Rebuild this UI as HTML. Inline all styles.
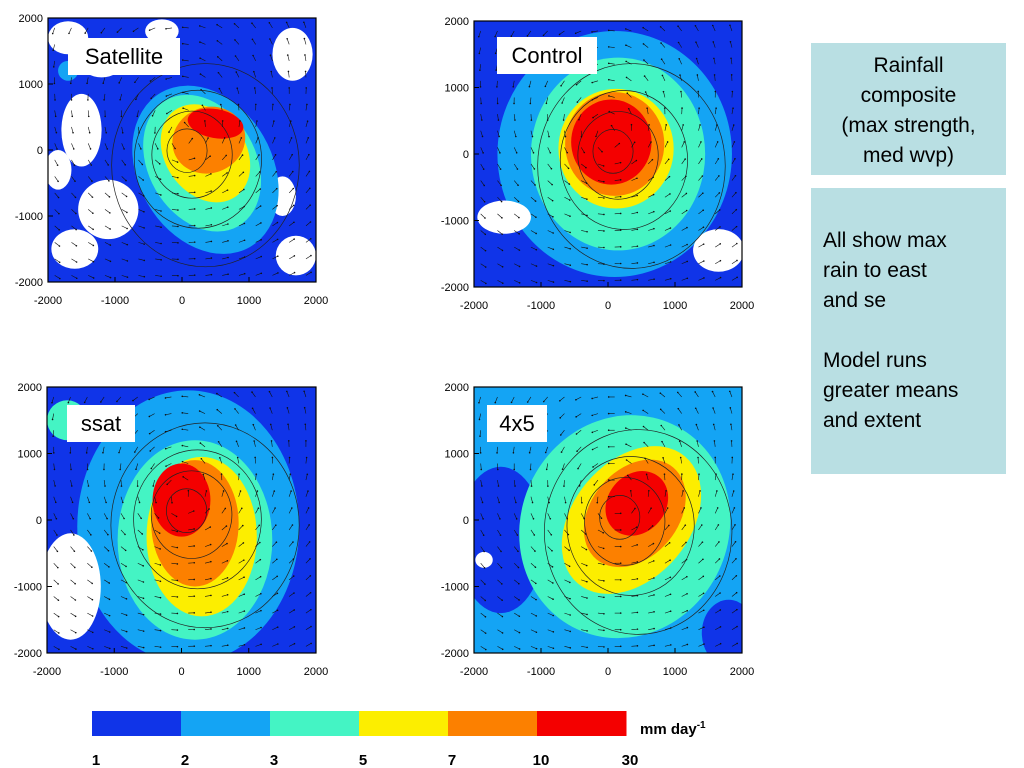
<!DOCTYPE html>
<html><head><meta charset="utf-8">
<style>
body{margin:0;width:1024px;height:768px;background:#fff;font-family:"Liberation Sans",sans-serif;overflow:hidden;position:relative}
.box{position:absolute;background:#b9dfe3;color:#000;font-size:21px}
svg{position:absolute;left:0;top:0}
</style></head><body>
<svg id="main" width="1024" height="768"></svg>
<div class="box" style="left:811px;top:43px;width:195px;height:132px;text-align:center;line-height:30px;padding:8px 28px 0;box-sizing:border-box">Rainfall composite (max strength, med wvp)</div>
<div class="box" style="left:811px;top:188px;width:195px;height:286px;padding:38px 45px 0 12px;box-sizing:border-box;line-height:30px;white-space:nowrap">All show max<br>rain to east<br>and se<br><br>Model runs<br>greater means<br>and extent</div>
<script>
const levels=["1","2","3","5","7","10","30"];
const colors=["#1034e8","#14a4f4","#44f4c4","#fcee00","#fc8000","#f40000"];
const tickVals=[-2000,-1000,0,1000,2000];
const panelNames=["Satellite","Control","ssat","4x5"];
const panelBoxes=[[48,18,316,282],[474,21,742,287],[47,387,316,653],[474,387,742,653]];
const labelBoxes=[[68,38,112,37],[497,37,100,37],[67,405,68,37],[487,405,60,37]];
// blobs: [cx, cy, rx, ry, rotDeg, colorIndex or -1 white]
const blobsSat=[[-1500,300,300,550,0,-1],[-1100,-900,450,450,0,-1],[-1600,-1500,350,300,0,-1],[-1850,-300,200,300,0,-1],[-1200,1300,300,200,0,-1],[-1700,1700,300,250,0,-1],[1650,1450,300,400,0,-1],[1700,-1600,300,300,0,-1],[1500,-700,200,300,0,-1],[-300,1800,250,180,0,-1],[350,-300,1000,1350,30,1],[-1700,1200,150,150,0,1],[300,-200,800,1100,30,2],[350,-50,600,800,35,3],[400,150,550,500,20,4],[500,400,420,220,-10,5]];
const blobsCtl=[[100,0,1750,1850,0,1],[-1550,-950,400,250,0,-1],[1650,-1450,380,320,0,-1],[-1900,-300,250,200,0,0],[150,0,1300,1450,0,2],[120,80,860,900,0,3],[100,150,740,780,0,4],[50,180,600,640,0,5]];
const blobsSsat=[[100,-100,1650,2050,0,1],[-1650,-1000,450,800,0,-1],[-1700,1500,300,300,0,2],[200,-300,1150,1500,0,2],[300,-250,820,1200,0,3],[200,-50,650,950,0,4],[0,300,430,550,0,5]];
const blobsFx5=[[-1600,-300,650,1100,0,0],[1800,-1700,400,500,0,0],[-1850,-600,130,120,0,-1],[250,-100,1550,1700,-25,2],[350,0,870,1250,-40,3],[400,100,650,900,-40,4],[430,250,430,520,-40,5]];
const allBlobs=[blobsSat,blobsCtl,blobsSsat,blobsFx5];
const bgs=[0,0,0,1];
const centers=[[0,50],[0,100],[0,200],[100,100]];
const ns="http://www.w3.org/2000/svg";
const svg=document.getElementById('main');
function mk(t,a,p){const e=document.createElementNS(ns,t);for(const k in a)e.setAttribute(k,a[k]);(p||svg).appendChild(e);return e;}
const defs=mk('defs',{});
panelBoxes.forEach((b,i)=>{
  const [x0,y0,x1,y1]=b;
  const sx=v=>x0+(v+2000)/4000*(x1-x0);
  const sy=v=>y1-(v+2000)/4000*(y1-y0);
  const kx=(x1-x0)/4000, ky=(y1-y0)/4000;
  const cp=mk('clipPath',{id:'c'+i},defs);mk('rect',{x:x0,y:y0,width:x1-x0,height:y1-y0},cp);
  const g=mk('g',{'clip-path':'url(#c'+i+')'});
  
  
  mk('rect',{x:x0,y:y0,width:x1-x0,height:y1-y0,fill:colors[bgs[i]]},g);
  allBlobs[i].forEach(bl=>{
    const e=mk('ellipse',{cx:sx(bl[0]),cy:sy(bl[1]),rx:bl[2]*kx,ry:bl[3]*ky,transform:`rotate(${-bl[4]} ${sx(bl[0])} ${sy(bl[1])})`,fill:bl[5]<0?'#fff':colors[bl[5]]},g);
    
    
  });
  const c=centers[i];
  [300,600,950,1400].forEach((r,k)=>{
    mk('ellipse',{cx:sx(c[0]+r*0.25),cy:sy(c[1]-r*0.2),rx:r*kx,ry:r*1.1*ky,fill:'none',stroke:'#222','stroke-width':0.7},g);
  });
  for(let gx=-1900;gx<=1900;gx+=250){for(let gy=-1900;gy<=1900;gy+=250){
    const dx=gx-c[0],dy=gy-c[1];const d=Math.hypot(dx,dy)+200;
    let ux=-dy/d,uy=dx/d; ux+=0.4; const L=6;const n=Math.hypot(ux,uy);
    const X=sx(gx),Y=sy(gy),X2=X+ux/n*L,Y2=Y-uy/n*L;
    mk('line',{x1:X,y1:Y,x2:X2,y2:Y2,stroke:'#111','stroke-width':0.6},g);
    mk('circle',{cx:X2,cy:Y2,r:0.8,fill:'#111'},g);
  }}
  mk('rect',{x:x0,y:y0,width:x1-x0,height:y1-y0,fill:'none',stroke:'#000','stroke-width':1.2});
  tickVals.forEach(v=>{
    const t1=mk('text',{x:x0-5,y:sy(v)+4,'font-size':11,'text-anchor':'end','font-family':'Liberation Sans'});t1.textContent=v;
    
    const t2=mk('text',{x:sx(v),y:y1+22,'font-size':11,'text-anchor':'middle','font-family':'Liberation Sans'});t2.textContent=v;
    
    mk('line',{x1:x0,y1:sy(v),x2:x0+5,y2:sy(v),stroke:'#000'});
    mk('line',{x1:sx(v),y1:y1,x2:sx(v),y2:y1-5,stroke:'#000'});
  });
  const lb=labelBoxes[i];
  const r=mk('rect',{x:lb[0],y:lb[1],width:lb[2],height:lb[3],fill:'#fff'});
  
  const lt=mk('text',{x:lb[0]+lb[2]/2,y:lb[1]+26,'font-size':22,'text-anchor':'middle','font-family':'Liberation Sans'});
  lt.textContent=panelNames[i];
  
});
// colorbar
const cbx0=92,cbx1=626,cby=711,cbh=25,w=(cbx1-cbx0)/colors.length;
colors.forEach((c,i)=>{
  const r=mk('rect',{x:cbx0+i*w,y:cby,width:w+0.5,height:cbh,fill:c});
  
});
levels.forEach((l,i)=>{
  const t=mk('text',{x:cbx0+i*w+4,y:765,'font-size':15,'font-weight':'bold','text-anchor':'middle','font-family':'Liberation Sans'});
  t.textContent=l;
  
});
const u=mk('text',{x:640,y:734,'font-size':15,'font-weight':'bold','font-family':'Liberation Sans'});
u.innerHTML='mm day<tspan dy="-6" font-size="10">-1</tspan>';

</script>
</body></html>
